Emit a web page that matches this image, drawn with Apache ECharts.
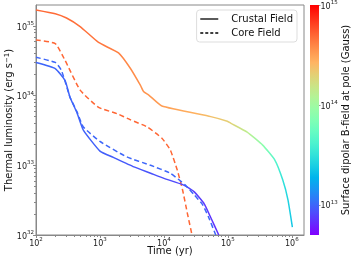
<!DOCTYPE html>
<html><head><meta charset="utf-8">
<script src="https://cdn.jsdelivr.net/npm/echarts@6/dist/echarts.min.js"></script>
<style>html,body{margin:0;padding:0;background:#fff}#c{width:357px;height:268px}</style>
</head><body><div id="c"></div>
<script>
// ---------------- data ----------------
// time in years, luminosity in erg/s
const crustHighT = [100, 200, 300, 490, 950, 1950, 3000, 4300, 4800, 5800, 9300, 54000, 98000, 112000, 200000, 350000, 540000, 720000, 870000, 1020000];
const crustHighL = [1.7e35, 1.5e35, 1.3e35, 9.8e34, 5.8e34, 4.1e34, 2.45e34, 1.4e34, 1.15e34, 1.02e34, 7.1e33, 5.0e33, 4.3e33, 4.0e33, 3.0e33, 1.95e33, 1.2e33, 6.2e32, 3.2e32, 1.3e32];
const coreHighT = [100, 200, 285, 490, 950, 1860, 3000, 5500, 9300, 12600, 16200, 19500, 23400, 27500];
const coreHighL = [6.3e34, 5.6e34, 3.2e34, 1.2e34, 6.8e33, 5.5e33, 4.5e33, 3.55e33, 2.45e33, 1.66e33, 8.5e32, 4.5e32, 2.0e32, 1.0e32];
const crustLowT = [100, 200, 285, 340, 440, 550, 1000, 1620, 3400, 6200, 10000, 20400, 29500, 42700, 53700, 72000];
const crustLowL = [3.0e34, 2.45e34, 1.65e34, 9.5e33, 5.6e33, 3.2e33, 1.6e33, 1.3e33, 9.5e32, 7.7e32, 6.5e32, 5.2e32, 4.2e32, 2.8e32, 1.8e32, 1.0e32];
const coreLowT = [100, 200, 250, 340, 440, 550, 1000, 2630, 6200, 12600, 21400, 29500, 40000, 50000, 64600];
const coreLowL = [3.55e34, 3.0e34, 2.3e34, 9.5e33, 5.8e33, 3.55e33, 2.2e33, 1.32e33, 1.0e33, 7.7e32, 5.25e32, 3.8e32, 2.75e32, 1.8e32, 1.0e32];
// surface dipolar field (Gauss) along each track
const crustHighFieldT = [100, 1000, 3000, 10000, 30000, 100000, 200000, 350000, 540000, 720000, 1020000];
const crustHighFieldB = [5.0e14, 4.5e14, 3.8e14, 3.2e14, 2.75e14, 2.0e14, 1.3e14, 7.6e13, 4.2e13, 2.9e13, 2.1e13];
const crustLowFieldT = [100, 1000, 10000, 30000, 72000];
const crustLowFieldB = [1.0e13, 9.6e12, 8.5e12, 7.5e12, 6.8e12];
const coreHighB = 5e14;
const coreLowB = 1e13;
// axes
const xMin = 100, xMax = 1.55e6;
const yMin = 1e32, yMax = 2e35;
const bMin = 5e12, bMax = 1e15;
const cbTicks = [1e13, 1e14, 1e15];
const legendNames = ['Crustal Field', 'Core Field'];
const xName = 'Time (yr)';
const cbName = 'Surface dipolar B-field at pole (Gauss)';

// ---------------- helpers ----------------
const L10 = Math.log10;
const lbMin = L10(bMin), lbMax = L10(bMax);
function rainbow(logB) {
  let x = (logB - lbMin) / (lbMax - lbMin);
  x = Math.min(1, Math.max(0, x));
  const r = Math.min(1, Math.abs(2 * x - 0.5));
  const g = Math.sin(Math.PI * x);
  const b = Math.cos(Math.PI * x / 2);
  return 'rgb(' + [r, g, b].map(v => Math.round(Math.max(0, Math.min(1, v)) * 255)).join(',') + ')';
}
function zip(a, b) { return a.map((v, i) => [v, b[i]]); }
function trackGradient(ts, fieldT, fieldB) {
  const t0 = L10(ts[0]), t1 = L10(ts[ts.length - 1]);
  const stops = fieldT.map((t, i) => ({
    offset: Math.min(1, Math.max(0, (L10(t) - t0) / (t1 - t0))),
    color: rainbow(L10(fieldB[i]))
  }));
  return new echarts.graphic.LinearGradient(0, 0, 1, 0, stops);
}
const supFmt = e => '{b|10}{s|' + e + '}';
const tickRich = {
  b: { fontSize: 8, color: '#222', padding: [3, 0, 0, 0], verticalAlign: 'bottom' },
  s: { fontSize: 5.5, color: '#222', verticalAlign: 'top' }
};
function minorVals(lo, hi) {
  const out = [];
  for (let e = Math.floor(lo); e <= Math.ceil(hi); e++)
    for (let k = 2; k <= 9; k++) { const v = e + L10(k); if (v > lo && v < hi) out.push(v); }
  return out;
}
const cbStops = [];
for (let i = 0; i <= 20; i++) cbStops.push({ offset: i / 20, color: rainbow(lbMin + i / 20 * (lbMax - lbMin)) });

const AX = '#888';
const lineCommon = { type: 'line', xAxisIndex: 0, yAxisIndex: 0, symbol: 'none', smooth: 0.15 };
const chart = echarts.init(document.getElementById('c'), null, { renderer: 'canvas' });
chart.setOption({
  animation: false,
  textStyle: { fontFamily: 'DejaVu Sans', color: '#222' },
  grid: [
    { left: 36, top: 5, width: 268, height: 230, show: true, borderColor: AX, borderWidth: 1, containLabel: false, outerBoundsMode: 'none' },
    { left: 310, top: 5, width: 9, height: 230, show: false, containLabel: false, outerBoundsMode: 'none' }
  ],
  legend: {
    data: legendNames, orient: 'vertical', right: 60, top: 10,
    itemWidth: 18, itemHeight: 8, itemGap: 4,
    padding: [4, 4, 4, 3],
    backgroundColor: '#fff', borderColor: '#ddd', borderWidth: 1, borderRadius: 3,
    textStyle: { fontSize: 10, color: '#111', padding: [0, 0, 0, 8] },
    lineStyle: { width: 1.3 }
  },
  xAxis: [
    { type: 'log', gridIndex: 0, min: xMin, max: xMax, logBase: 10, position: 'bottom',
      name: xName, nameLocation: 'middle', nameGap: 11, nameMoveOverlap: false, nameTextStyle: { fontSize: 10, color: '#111' },
      axisLine: { lineStyle: { color: AX } }, axisTick: { length: 3, lineStyle: { color: AX } },
      splitLine: { show: false },
      axisLabel: { margin: 2, showMaxLabel: false, formatter: v => supFmt(Math.round(L10(v))), rich: tickRich } },
    { type: 'value', gridIndex: 0, min: L10(xMin), max: L10(xMax), position: 'bottom',
      axisLine: { show: false }, axisLabel: { show: false }, splitLine: { show: false },
      axisTick: { show: true, length: 2, lineStyle: { color: AX }, customValues: minorVals(L10(xMin), L10(xMax)) } },
    { type: 'category', gridIndex: 1, data: ['cb'], show: false }
  ],
  yAxis: [
    { type: 'log', gridIndex: 0, min: yMin, max: yMax, logBase: 10, position: 'left',
      name: 'Thermal luminosity (erg s{s|−1})', nameLocation: 'middle', nameGap: 22, nameRotate: 90, nameMoveOverlap: false,
      nameTextStyle: { fontSize: 10, color: '#111', rich: { s: { fontSize: 7, verticalAlign: 'top', color: '#111' } } },
      axisLine: { lineStyle: { color: AX } }, axisTick: { length: 3, lineStyle: { color: AX } },
      splitLine: { show: false },
      axisLabel: { margin: 2, showMaxLabel: false, formatter: v => supFmt(Math.round(L10(v))), rich: tickRich } },
    { type: 'value', gridIndex: 0, min: L10(yMin), max: L10(yMax), position: 'left',
      axisLine: { show: false }, axisLabel: { show: false }, splitLine: { show: false },
      axisTick: { show: true, length: 2, lineStyle: { color: AX } , customValues: minorVals(L10(yMin), L10(yMax)) } },
    { type: 'value', gridIndex: 1, min: lbMin, max: lbMax, position: 'right',
      name: cbName, nameLocation: 'middle', nameGap: 21, nameRotate: 90,
      nameTextStyle: { fontSize: 10, color: '#111' },
      axisLine: { show: false }, splitLine: { show: false },
      axisTick: { show: true, length: 1.5, lineStyle: { color: '#999' }, customValues: cbTicks.map(L10) },
      axisLabel: { margin: 1.5, customValues: cbTicks.map(L10), formatter: v => supFmt(Math.round(v)), rich: tickRich } }
  ],
  series: [
    Object.assign({ name: 'crustHigh', data: zip(crustHighT, crustHighL),
      lineStyle: { width: 1.5, color: trackGradient(crustHighT, crustHighFieldT, crustHighFieldB) } }, lineCommon),
    Object.assign({ name: 'coreHigh', data: zip(coreHighT, coreHighL),
      lineStyle: { width: 1.5, type: [5, 3], color: rainbow(L10(coreHighB)) } }, lineCommon),
    Object.assign({ name: 'crustLow', data: zip(crustLowT, crustLowL),
      lineStyle: { width: 1.5, color: trackGradient(crustLowT, crustLowFieldT, crustLowFieldB) } }, lineCommon),
    Object.assign({ name: 'coreLow', data: zip(coreLowT, coreLowL),
      lineStyle: { width: 1.5, type: [5, 3], color: rainbow(L10(coreLowB)) } }, lineCommon),
    { name: legendNames[0], type: 'line', xAxisIndex: 0, yAxisIndex: 0, data: [], color: '#000',
      itemStyle: { opacity: 0 }, lineStyle: { color: '#000', width: 1.5 } },
    { name: legendNames[1], type: 'line', xAxisIndex: 0, yAxisIndex: 0, data: [], color: '#000',
      itemStyle: { opacity: 0 }, lineStyle: { color: '#000', width: 1.5, type: [3, 2] } },
    { name: 'cbBase', type: 'bar', xAxisIndex: 2, yAxisIndex: 2, stack: 'cb', data: [lbMin],
      barWidth: '100%', itemStyle: { color: 'rgba(0,0,0,0)' }, silent: true },
    { name: 'cbBar', type: 'bar', xAxisIndex: 2, yAxisIndex: 2, stack: 'cb', data: [lbMax - lbMin],
      barWidth: '100%', itemStyle: { color: new echarts.graphic.LinearGradient(0, 1, 0, 0, cbStops) }, silent: true }
  ]
});
</script></body></html>
